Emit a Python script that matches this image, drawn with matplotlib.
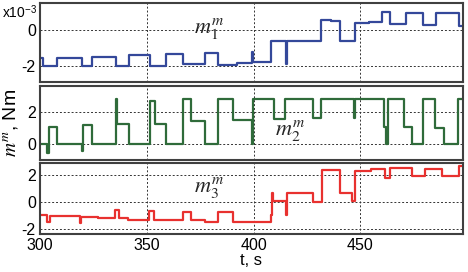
import numpy as np
import matplotlib
matplotlib.use("Agg")
import matplotlib.pyplot as plt

plt.rcParams['font.family'] = ['Liberation Sans', 'DejaVu Sans']
plt.rcParams['mathtext.fontset'] = 'stix'
plt.rcParams['axes.unicode_minus'] = False

# Dados (sinais em degrau, tempo de inicio de cada degrau)
t1 = [300, 301.5, 307.8, 319.5, 324.5, 335.4, 341.7, 351.5, 358.9, 367.1, 377.3,
      383.5, 392.0, 399.0, 399.5, 408.2, 415.0, 415.5, 431.6, 436.0, 440.5, 447.5,
      454.0, 460.0, 463.6, 471.4, 479.5, 485.5, 495.9, 498]
m1 = [-1.58, -2.0, -1.55, -2.0, -1.49, -2.0, -1.4, -2.0, -1.36, -1.9, -1.3,
      -1.95, -1.86, -1.25, -1.81, -0.6, -1.87, -0.6, 0.55, 0.5, -0.61, 0.37,
      0.42, 0.98, 0.33, 0.97, 0.28, 0.93, 0.22, 0.22]

t2 = [300, 303.1, 304.0, 307.8, 319.5, 320.0, 322.0, 324.5, 335.4, 336.2, 341.7,
      351.5, 353.9, 358.9, 367.1, 370.7, 377.3, 383.5, 390.5, 399.0, 399.6, 409.3,
      414.8, 427.7, 431.4, 447.0, 447.6, 460.8, 462.0, 463.0, 470.2, 474.1, 479.5,
      485.0, 488.9, 495.6, 498]
m2 = [0, -0.56, 1.06, 0, -0.46, 1.15, 1.2, 0, 2.77, 1.25, 0,
      2.65, 1.25, 0, 2.77, 1.42, 0, 2.77, 1.5, 0, 2.77, 1.56,
      2.77, 1.62, 2.77, 1.62, 2.77, 1.06, 0, 2.77, 1.04, 0, 2.77,
      1.0, 0, 2.77, 2.77]

t3 = [300, 303.1, 304.5, 318.7, 319.3, 327.0, 335.2, 336.8, 341.4, 351.0, 353.5,
      367.1, 370.6, 377.3, 383.5, 390.5, 399.5, 408.2, 408.6, 409.2, 415.0, 415.5,
      428.0, 431.9, 440.5, 446.0, 447.5, 455.0, 461.4, 463.6, 474.1, 480.0, 488.1,
      495.9, 498]
m3 = [-1.0, -1.5, -1.07, -1.6, -1.14, -1.22, -0.62, -1.24, -1.32, -0.65, -1.32,
      -0.75, -1.37, -1.47, -0.75, -1.5, -1.52, -1.0, 0.67, 0.05, -1.0, 0.67,
      0.0, 2.39, 0.67, 0.05, 2.32, 2.42, 1.78, 2.52, 1.9, 2.47, 1.9,
      2.64, 2.64]

xticks = [300, 350, 400, 450]

W, H = 468, 272
fig = plt.figure(figsize=(W / 100, H / 100), dpi=100)

def caixa(top, bottom):
    return [40 / W, 1 - bottom / H, 423 / W, (bottom - top) / H]

paineis = [
    (caixa(3, 82), t1, m1, '#34489a', (-2.9, 1.5), [-2, 0], r'$m_1^m$', 379, 0.1),
    (caixa(86, 160), t2, m2, '#2f6b3a', (-1.0, 3.6), [0, 2], r'$m_2^m$', 417, 0.85),
    (caixa(163, 234), t3, m3, '#e8312f', (-2.4, 2.9), [-2, 0, 2], r'$m_3^m$', 379, 1.1),
]

eixos = []
for pos, t, m, cor, ylim, yt, rot, xr, yr in paineis:
    ax = fig.add_axes(pos)
    ax.step(t, m, where='post', color=cor, lw=1.6)
    ax.set_xlim(300, 498)
    ax.set_ylim(*ylim)
    ax.set_yticks(yt)
    ax.set_xticks(xticks)
    ax.grid(True, color='0.2', linestyle=(0, (2, 2)), lw=0.7)
    ax.tick_params(direction='in', length=0, labelsize=11.5, pad=3)
    for s in ax.spines.values():
        s.set_color('0.25')
        s.set_linewidth(1.5)
    ax.text(xr, yr, rot, fontsize=16, ha='center', va='center', color='0.15')
    eixos.append(ax)

eixos[0].tick_params(labelbottom=False)
eixos[1].tick_params(labelbottom=False)
eixos[2].set_xlabel('t, s', fontsize=12, labelpad=0)
eixos[1].set_ylabel(r'$m^m$, Nm', fontsize=14, labelpad=4)
fig.text(2 / W, 1 - 12 / H, r'x10$^{\mathregular{-3}}$', fontsize=10, va='center', ha='left')

fig.savefig('out.png', dpi=100)
